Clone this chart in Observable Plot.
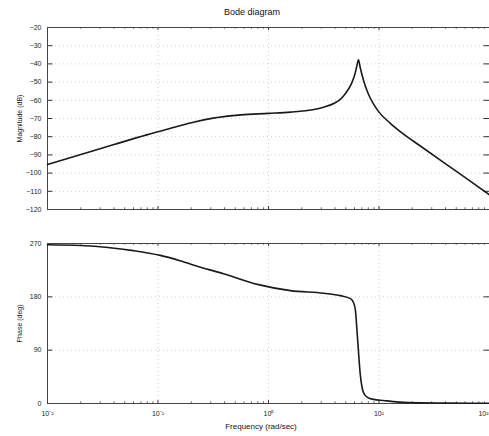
<!DOCTYPE html>
<html><head><meta charset="utf-8">
<script src="https://cdn.jsdelivr.net/npm/d3@7"></script>
<script src="https://cdn.jsdelivr.net/npm/@observablehq/plot@0.6"></script>
<style>
body{margin:0;background:#fff;font-family:"Liberation Sans",Arial,sans-serif;}
#wrap{position:relative;width:489px;height:436px;overflow:hidden;background:#fff;}
#title{position:absolute;top:7px;left:0;width:504px;text-align:center;font-size:9px;color:#111;z-index:2;}
#xlabel{position:absolute;top:422px;left:0;width:522px;text-align:center;font-size:8px;color:#111;z-index:2;}
#topPlot{position:absolute;top:0;left:0;z-index:1;}
#botPlot{position:absolute;top:230px;left:0;z-index:1;}
</style></head>
<body><div id="wrap">
<div id="topPlot"></div><div id="botPlot"></div>
<div id="title">Bode diagram</div>
<div id="xlabel">Frequency (rad/sec)</div>
</div>
<script>
// Magnitude curve (rad/s, dB)
const magFreq = [0.01,0.02,0.04,0.079,0.158,0.2,0.316,0.562,1,1.58,2.51,3.16,3.98,4.47,5.01,5.62,6.03,6.31,6.52,6.76,7.24,7.94,8.91,10,12.6,15.8,25.1,39.8,63.1,100];
const magDb   = [-95.3,-89.8,-84.3,-79,-74,-72.3,-69.8,-68,-67.2,-66.5,-65.2,-63.8,-61.5,-59.5,-56,-51,-46,-41,-37.7,-42,-49,-56,-62,-66.5,-72.5,-77.5,-86.2,-94.8,-103.3,-112];
// Phase curve (rad/s, deg)
const phFreq = [0.01,0.02,0.06,0.105,0.158,0.243,0.392,0.794,1.58,3.16,4.49,5.52,5.89,6.12,6.31,6.52,6.76,7.08,7.41,7.94,8.91,11,18.2,39.8,100];
const phDeg  = [268,266.6,258,250,241,230,219,201,190.5,186,182,177,170,157,125,88,50,24,15,10,7,5,1.5,0.7,0.3];
// Ticks
const xTicks = [0.01,0.1,1,10,100];
const xTickLabels = ["10\u207B\u00B2","10\u207B\u00B9","10\u2070","10\u00B9","10\u00B2"];
const magTicks = [-20,-30,-40,-50,-60,-70,-80,-90,-100,-110,-120];
const phTicks = [0,90,180,270];

const minor = [];
for (let d = 0.01; d < 100; d *= 10) for (let k = 2; k <= 9; k++) minor.push(+(d*k).toPrecision(3));

const magData = magFreq.map((f,i)=>({f, v: magDb[i]}));
const phData = phFreq.map((f,i)=>({f, v: phDeg[i]}));
const xLabelOf = new Map(xTicks.map((t,i)=>[t, xTickLabels[i]]));
const xTicksInner = xTicks.slice(0, -1);
const xTickLast = xTicks.slice(-1);

const common = {
  width: 489, marginLeft: 47, marginRight: 0,
  style: {fontFamily: '"Liberation Sans",Arial,sans-serif', fontSize: "7px", color: "#222", background: "transparent", overflow: "visible"}
};
const xScale = {type: "log", domain: [0.01, 100]};
const grid = {stroke: "#999", strokeOpacity: 0.45, strokeDasharray: "1,3"};

function inwardTicks(yDomain, yTicksArr, tickLen) {
  const [y0, y1] = yDomain;
  const span = (y1 - y0) * tickLen;
  return [
    Plot.ruleX(minor, {x: d=>d, y1: y0, y2: y0 + span*0.6, stroke: "#444", strokeWidth: 0.8}),
    Plot.ruleX(minor, {x: d=>d, y1: y1, y2: y1 - span*0.6, stroke: "#444", strokeWidth: 0.8}),
    Plot.ruleX(xTicks, {x: d=>d, y1: y0, y2: y0 + span, stroke: "#333", strokeWidth: 1}),
    Plot.ruleX(xTicks, {x: d=>d, y1: y1, y2: y1 - span, stroke: "#333", strokeWidth: 1}),
    Plot.ruleY(yTicksArr, {y: d=>d, x1: 0.01, x2: 0.0112, stroke: "#333", strokeWidth: 1}),
    Plot.ruleY(yTicksArr, {y: d=>d, x1: 100, x2: 89, stroke: "#333", strokeWidth: 1})
  ];
}

const magPlot = Plot.plot({
  ...common,
  height: 215, marginTop: 27, marginBottom: 6,
  x: {...xScale, axis: null},
  y: {domain: [-120, -20]},
  marks: [
    Plot.gridX(xTicks, grid),
    Plot.gridY(magTicks, grid),
    Plot.axisY(magTicks, {tickSize: 0, tickPadding: 6, label: "Magnitude (dB)", labelAnchor: "center", labelArrow: "none", labelOffset: 30}),
    ...inwardTicks([-120, -20], magTicks, 0.016),
    Plot.frame({stroke: "#444", strokeWidth: 1}),
    Plot.line(magData, {x: "f", y: "v", curve: "monotone-x", stroke: "#1a1a1a", strokeWidth: 1.6})
  ]
});
document.getElementById("topPlot").appendChild(magPlot);

const phPlot = Plot.plot({
  ...common,
  height: 206, marginTop: 13, marginBottom: 33,
  x: {...xScale, ticks: xTicks, tickFormat: d => xLabelOf.get(d) ?? ""},
  y: {domain: [0, 270]},
  marks: [
    Plot.gridX(xTicks, grid),
    Plot.gridY(phTicks, grid),
    Plot.axisY(phTicks, {tickSize: 0, tickPadding: 6, label: "Phase (deg)", labelAnchor: "center", labelArrow: "none", labelOffset: 30}),
    Plot.axisX(xTicksInner, {tickSize: 0, tickPadding: 8, tickFormat: d => xLabelOf.get(d) ?? "", label: null}),
    Plot.text(xTickLast, {x: d=>d, y: 0, text: d => xLabelOf.get(d), textAnchor: "end", lineAnchor: "top", dy: 8, dx: -1, fill: "#222"}),
    ...inwardTicks([0, 270], phTicks, 0.018),
    Plot.frame({stroke: "#444", strokeWidth: 1}),
    Plot.line(phData, {x: "f", y: "v", curve: "monotone-x", stroke: "#1a1a1a", strokeWidth: 1.6})
  ]
});
document.getElementById("botPlot").appendChild(phPlot);
</script>
</body></html>
